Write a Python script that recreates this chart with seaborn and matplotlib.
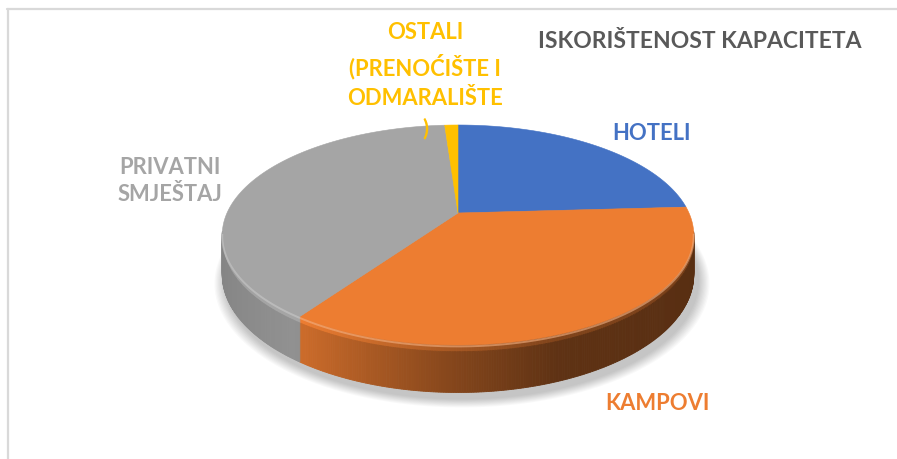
import numpy as np
import matplotlib
matplotlib.use("Agg")
import matplotlib.pyplot as plt
import seaborn as sns
from matplotlib.lines import Line2D
from matplotlib.colors import to_rgb

# ---- data ----
categories = ["HOTELI", "KAMPOVI", "PRIVATNI\nSMJEŠTAJ", "OSTALI\n(PRENOĆIŠTE I\nODMARALIŠTE\n)"]
values = [24.1, 35.6, 39.2, 1.1]
colors = ["#4472C4", "#ED7D31", "#A5A5A5", "#FFC000"]
title = "ISKORIŠTENOST KAPACITETA"

sns.set_theme(style="white")
plt.rcParams['font.family'] = ['Lato', 'DejaVu Sans']

W, H = 897, 459
fig = plt.figure(figsize=(W / 100, H / 100), dpi=100)
fig.patch.set_facecolor("white")
ax = fig.add_axes([0, 0, 1, 1])
ax.set_xlim(0, W)
ax.set_ylim(H, 0)
ax.axis('off')

# 3D perspective pie geometry (pixel space)
cx, cy = 458, 213
R, C, A, DEPTH = 231, 105.6, 0.2, 38


def proj(theta, z):
    t = np.radians(theta)
    u, v = np.cos(t), np.sin(t)
    w = 1 + A * v
    return cx + R * u / w, cy - (C * v - DEPTH * z) / w


def shade(u):
    return np.interp(u, [-1, -0.6, -0.35, 0.0, 0.35, 1.0], [0.8, 0.88, 0.74, 0.55, 0.4, 0.37])


vals = np.asarray(values, dtype=float)
frac = vals / vals.sum()
bounds = 90 - 360 * np.concatenate([[0], np.cumsum(frac)])

# soft shadow under pie
th_all = np.linspace(0, 360, 361)
bx, by = proj(th_all, 1.0)
for k in range(10, 0, -1):
    s = 1 + 0.005 * k
    ax.fill(cx + 4 + (bx - cx) * s, cy + 6 + (by - cy) * s, color="black", alpha=0.022, lw=0, zorder=0)

# side walls
for i in range(len(vals)):
    a0, a1 = bounds[i], bounds[i + 1]
    n = max(int(abs(a0 - a1) / 0.5), 1)
    th = np.linspace(a0, a1, n + 1)
    base = np.array(to_rgb(colors[i]))
    for j in range(n):
        t0, t1 = th[j], th[j + 1]
        mid = 0.5 * (t0 + t1)
        if np.sin(np.radians(mid)) > -A + 0.03:
            continue
        u = np.cos(np.radians(mid))
        f = shade(u)
        for z0, z1, ff in [(0.0, 0.14, min(1.0, f + 0.14)), (0.14, 1.0, f)]:
            x0a, y0a = proj(t0, z0)
            x1a, y1a = proj(t1, z0)
            x0b, y0b = proj(t0, z1)
            x1b, y1b = proj(t1, z1)
            col = np.clip(base * ff, 0, 1)
            ax.fill([x0a, x1a, x1b, x0b], [y0a, y1a, y1b, y0b], color=col, lw=0.6, ec=col, zorder=2)

# top face
for i in range(len(vals)):
    th = np.linspace(bounds[i], bounds[i + 1], 200)
    x, y = proj(th, 0.0)
    ax.fill(np.r_[cx, x], np.r_[cy, y], color=colors[i], lw=0.4, ec=colors[i], zorder=3)

# front rim highlight (bevel)
for i in range(len(vals)):
    th = np.linspace(bounds[i], bounds[i + 1], 200)
    m = np.sin(np.radians(th)) < -A + 0.03
    if m.sum() > 1:
        x, y = proj(th[m], 0.03)
        light = 0.6 * np.array(to_rgb(colors[i])) + 0.4
        ax.plot(x, y, color=light, lw=1.4, alpha=0.6, zorder=4, solid_capstyle="butt")

# labels
fs = 15.8
ax.text(700, 41, title, color="#595959", fontsize=16.5, fontweight="bold", ha="center", va="center")
ax.text(652, 134, categories[0], color=colors[0], fontsize=fs, fontweight="bold", ha="center", va="center")
ax.text(657, 404, categories[1], color=colors[1], fontsize=fs, fontweight="bold", ha="center", va="center")
ax.text(170, 181, categories[2], color=colors[2], fontsize=fs, fontweight="bold", ha="center", va="center",
        linespacing=1.4, multialignment="center")
ax.text(425, 81, categories[3], color=colors[3], fontsize=fs, fontweight="bold", ha="center", va="center",
        linespacing=1.5, multialignment="center")

# chart frame
fig.add_artist(Line2D([7.5 / W, 7.5 / W], [0, 1 - 9 / H], transform=fig.transFigure, color="#d9d9d9", lw=1.6))
fig.add_artist(Line2D([7 / W, 1], [1 - 9 / H, 1 - 9 / H], transform=fig.transFigure, color="#d9d9d9", lw=1.6))

fig.savefig("out.png", dpi=100)
